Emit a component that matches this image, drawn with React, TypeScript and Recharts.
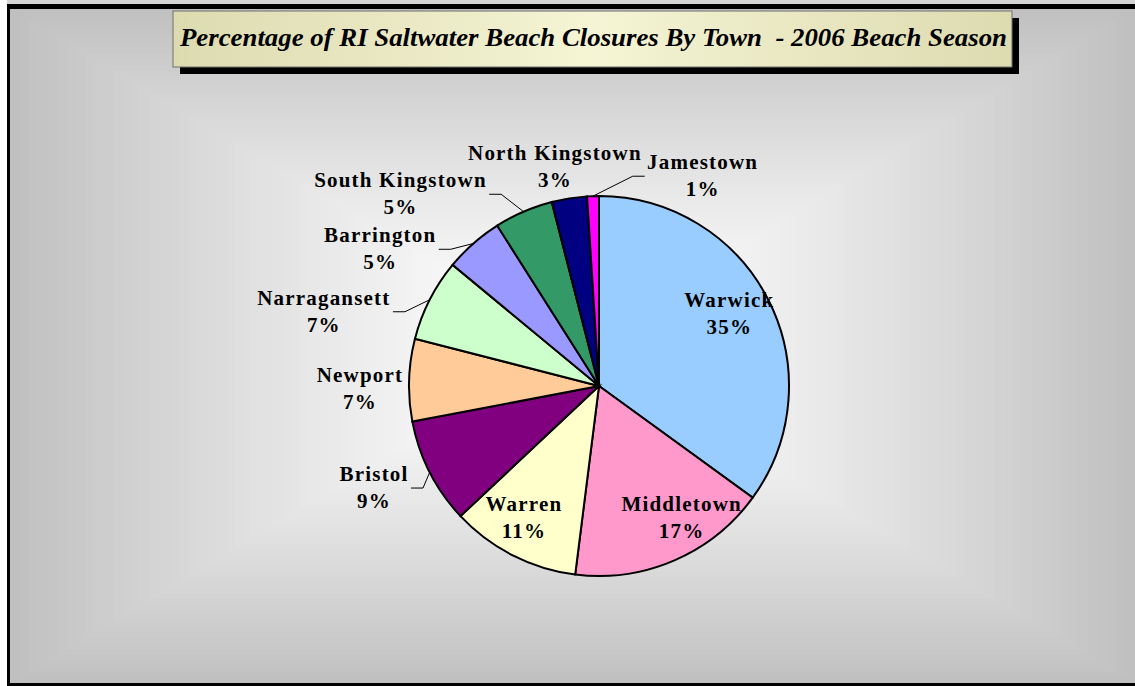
import React from "react";
import { PieChart, Pie, Cell } from "recharts";

const TOWNS = [
  "Warwick",
  "Middletown",
  "Warren",
  "Bristol",
  "Newport",
  "Narragansett",
  "Barrington",
  "South Kingstown",
  "North Kingstown",
  "Jamestown",
];
const CLOSURE_PCT = [35, 17, 11, 9, 7, 7, 5, 5, 3, 1];
const SLICE_COLORS = [
  "#99CCFF",
  "#FF99CC",
  "#FFFFCC",
  "#800080",
  "#FFCC99",
  "#CCFFCC",
  "#9999FF",
  "#339966",
  "#000080",
  "#FF00FF",
];

const TITLE = "Percentage of RI Saltwater Beach Closures By Town  - 2006 Beach Season";

// where each data label sits: distance from pie centre, angle clockwise from 12 o'clock, leader line
const LABEL_SPOTS: [number, number, boolean][] = [
  [149, 61, false],
  [156, 148, false],
  [152, 209.6, false],
  [247, 245.6, true],
  [239, 269.3, false],
  [285, 285.1, true],
  [258, 302, true],
  [276, 314, true],
  [223, 348.6, false],
  [234, 26.3, true],
];

const W = 1135;
const H = 686;
const FONT = "'Liberation Serif', 'Times New Roman', serif";
const LABEL_SIZE = 21;
const LETTER_SP = 1.2;

const data = TOWNS.map((name, i) => ({ name, value: CLOSURE_PCT[i] }));

let ctx: CanvasRenderingContext2D | null = null;
function textWidth(s: string) {
  if (!ctx) ctx = document.createElement("canvas").getContext("2d");
  if (!ctx) return s.length * 11;
  ctx.font = `bold ${LABEL_SIZE}px 'Liberation Serif'`;
  return ctx.measureText(s).width + LETTER_SP * (s.length - 1);
}

const renderLabel = (props: any) => {
  const { cx, cy, midAngle, outerRadius, index } = props;
  const [dist, ang, leader] = LABEL_SPOTS[index];
  const rad = (ang * Math.PI) / 180;
  const x = cx + dist * Math.sin(rad);
  const y = cy - dist * Math.cos(rad);
  const name = TOWNS[index];
  const pct = `${Math.round((props.percent ?? 0) * 100)}%`;

  let line = null;
  if (leader) {
    const half = Math.max(textWidth(name), textWidth(pct)) / 2 + 3;
    const side = x < cx ? 1 : -1;
    const x0 = x + side * half;
    const x1 = x0 + side * 12;
    const m = (-midAngle * Math.PI) / 180;
    const ex = cx + outerRadius * Math.cos(m);
    const ey = cy + outerRadius * Math.sin(m);
    line = (
      <polyline
        points={`${x0},${y} ${x1},${y} ${ex},${ey}`}
        fill="none"
        stroke="#000"
        strokeWidth={1}
      />
    );
  }

  const textStyle = {
    fontFamily: FONT,
    fontSize: LABEL_SIZE,
    fontWeight: 700,
    letterSpacing: LETTER_SP,
  };
  return (
    <g key={`lbl-${index}`}>
      {line}
      <text x={x} y={y - 7} textAnchor="middle" fill="#000" style={textStyle}>
        {name}
      </text>
      <text x={x} y={y + 20} textAnchor="middle" fill="#000" style={textStyle}>
        {pct}
      </text>
    </g>
  );
};

// stepped rectangular "from centre" fill like the old Excel chart area
function Backdrop() {
  const left = 10;
  const top = 9;
  const right = W;
  const bottom = 683;
  const mx = (left + right) / 2;
  const my = (top + bottom) / 2;
  const hw = (right - left) / 2;
  const hh = (bottom - top) / 2;
  const steps = 60;
  const rects = [];
  for (let i = 0; i < steps; i++) {
    const t = 1 - i / steps;
    const g = Math.round(255 - 63 * Math.pow(t, 1.3));
    rects.push(
      <rect
        key={i}
        x={mx - hw * t}
        y={my - hh * t}
        width={2 * hw * t}
        height={2 * hh * t}
        fill={`rgb(${g},${g},${g})`}
      />
    );
  }
  return (
    <svg width={W} height={H} style={{ position: "absolute", left: 0, top: 0 }}>
      <defs>
        <linearGradient id="titleFill" x1="0" y1="0" x2="1" y2="0">
          <stop offset="0" stopColor="#dcdbb0" />
          <stop offset="0.5" stopColor="#f5f4d4" />
          <stop offset="1" stopColor="#dcdbb0" />
        </linearGradient>
      </defs>
      <rect x={0} y={0} width={W} height={H} fill="#fff" />
      <rect x={7} y={0} width={W - 7} height={4} fill="#d4d4d4" />
      {rects}
      <rect x={7} y={4} width={W - 7} height={5} fill="#000" />
      <rect x={7} y={4} width={3} height={H - 4} fill="#000" />
      <rect x={7} y={683} width={W - 7} height={3} fill="#000" />

      <rect x={180} y={18} width={839} height={56} fill="#000" />
      <rect
        x={173}
        y={11}
        width={839}
        height={56}
        fill="url(#titleFill)"
        stroke="#707070"
        strokeWidth={1}
      />
      <text
        x={180}
        y={46}
        textLength={827}
        lengthAdjust="spacingAndGlyphs"
        fill="#000"
        style={{
          fontFamily: FONT,
          fontSize: 25,
          fontWeight: 700,
          fontStyle: "italic",
          whiteSpace: "pre",
        }}
      >
        {TITLE}
      </text>
    </svg>
  );
}

export default function App() {
  return (
    <div style={{ position: "absolute", left: 0, top: 0, width: W, height: H }}>
      <Backdrop />
      <div style={{ position: "absolute", left: 0, top: 0 }}>
        <PieChart width={W} height={H} margin={{ top: 0, right: 0, bottom: 0, left: 0 }}>
          <Pie
            data={data}
            dataKey="value"
            nameKey="name"
            cx={599}
            cy={386}
            outerRadius={190}
            startAngle={90}
            endAngle={-270}
            stroke="#000"
            strokeWidth={2}
            label={renderLabel}
            labelLine={false}
            isAnimationActive={false}
          >
            {data.map((d, i) => (
              <Cell key={d.name} fill={SLICE_COLORS[i]} />
            ))}
          </Pie>
        </PieChart>
      </div>
    </div>
  );
}
